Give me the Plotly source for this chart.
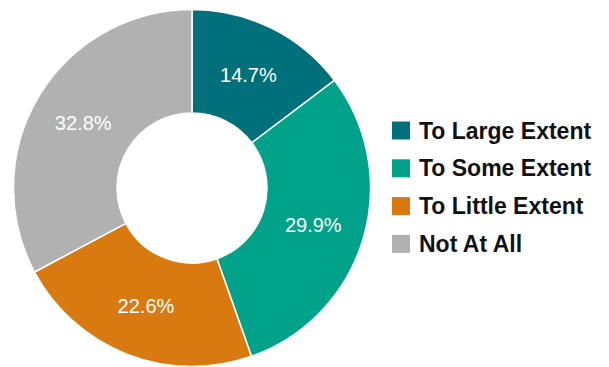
import plotly.graph_objects as go

# Survey response shares
categories = ["To Large Extent", "To Some Extent", "To Little Extent", "Not At All"]
shares = [14.7, 29.9, 22.6, 32.8]
colors = ["#00717A", "#00A38A", "#D87A10", "#B1B1B1"]

W, H = 609, 367
cx, cy, r = 192, 188, 178.5  # donut centre and outer radius, pixels

fig = go.Figure(
    go.Pie(
        labels=categories,
        values=shares,
        text=[f"{v:.1f}%" for v in shares],
        textinfo="text",
        textposition="inside",
        insidetextorientation="horizontal",
        textfont=dict(family="Liberation Sans, Arial, sans-serif", size=20, color="white"),
        hole=0.42,
        sort=False,
        direction="clockwise",
        rotation=0,
        marker=dict(colors=colors, line=dict(color="white", width=1.5)),
        domain=dict(
            x=[(cx - r) / W, (cx + r) / W],
            y=[(H - cy - r) / H, (H - cy + r) / H],
        ),
        showlegend=False,
        hoverinfo="label+percent",
    )
)

# Legend drawn as swatches and labels to the right of the donut
shapes, annotations = [], []
row_y = [130.5, 168.3, 206.1, 243.9]
sw_x0, sw = 392, 18
for name, col, y in zip(categories, colors, row_y):
    shapes.append(dict(
        type="rect", xref="paper", yref="paper",
        x0=sw_x0 / W, x1=(sw_x0 + sw) / W,
        y0=(H - y - sw / 2) / H, y1=(H - y + sw / 2) / H,
        fillcolor=col, line=dict(width=0),
    ))
    annotations.append(dict(
        text=f"<b>{name}</b>", xref="paper", yref="paper",
        x=417 / W, y=(H - y) / H, xanchor="left", yanchor="middle",
        showarrow=False,
        font=dict(family="Liberation Sans, Arial, sans-serif", size=23, color="#111111"),
    ))

fig.update_layout(
    width=W, height=H,
    margin=dict(l=0, r=0, t=0, b=0),
    paper_bgcolor="white", plot_bgcolor="white",
    shapes=shapes, annotations=annotations,
)

fig.write_html("out.html")
